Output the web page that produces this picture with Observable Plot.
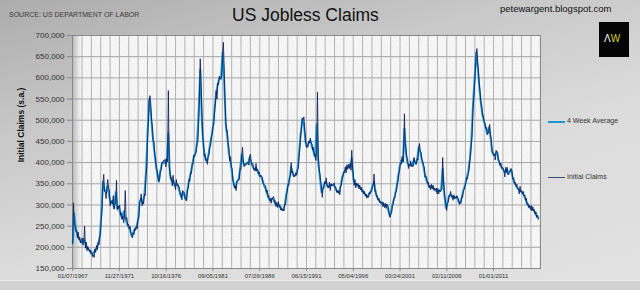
<!DOCTYPE html>
<html><head><meta charset="utf-8">
<script src="https://cdn.jsdelivr.net/npm/d3@7"></script>
<script src="https://cdn.jsdelivr.net/npm/@observablehq/plot@0.6"></script>
<style>
html,body{margin:0;padding:0;width:640px;height:290px;overflow:hidden;font-family:"Liberation Sans",Arial,sans-serif;}
#wrap{position:relative;width:640px;height:290px;overflow:hidden;
 background:linear-gradient(165deg,#acacac 0%,#c8c8c8 30%,#dcdcdc 60%,#e2e2e2 100%);}
#wrap:after{content:"";position:absolute;left:0;right:0;bottom:0;height:9px;background:#d2d2d2;border-top:1px solid #ececec;}
#panel{position:absolute;left:72px;top:35px;width:468px;height:233px;background-color:#fafafa;
 background-image:url("data:image/svg+xml;utf8,<svg xmlns='http://www.w3.org/2000/svg' width='240' height='240'><filter id='n'><feTurbulence type='fractalNoise' baseFrequency='0.9' numOctaves='2' seed='3'/><feColorMatrix values='0 0 0 0 0.5  0 0 0 0 0.5  0 0 0 0 0.5  0 0 0 0.35 -0.1'/></filter><rect width='100%' height='100%' filter='url(%23n)'/></svg>");}
#wall{position:absolute;left:72px;top:35px;width:9px;height:233px;background:linear-gradient(to right,#b8b8b8,rgba(230,230,230,0));}
#chart{position:absolute;left:0;top:0;}
.t{position:absolute;white-space:nowrap;}
</style></head>
<body><div id="wrap">
<div id="panel"></div><div id="wall"></div>
<div id="chart"></div>
<div class="t" style="left:9px;top:11px;font-size:7px;color:#3a3a3a;">SOURCE: US DEPARTMENT OF LABOR</div>
<div class="t" style="left:232px;top:5px;font-size:17.5px;color:#111;">US Jobless Claims</div>
<div class="t" style="left:500px;top:3px;font-size:9.5px;color:#111;">petewargent.blogspot.com</div>
<div class="t" style="left:599px;top:22px;width:30px;height:35px;background:#050505;"></div>
<div class="t" style="left:604px;top:33px;font-size:10px;"><span style="color:#f2f2f2">Λ</span><span style="color:#d9cf2a">W</span></div>
<div class="t" style="left:21px;top:125px;font-size:8.5px;font-weight:bold;color:#111;transform:translate(-50%,-50%) rotate(-90deg);">Initial Claims (s.a.)</div>
<div class="t" style="left:548px;top:121px;width:17px;height:2px;background:#1c97d6;"></div>
<div class="t" style="left:567px;top:117px;font-size:7px;color:#333;">4 Week Average</div>
<div class="t" style="left:548px;top:177px;width:17px;height:1px;background:#3c4a7c;"></div>
<div class="t" style="left:567px;top:173px;font-size:7px;color:#333;">Initial Claims</div>
</div>
<script>
// Weekly initial claims, read as monthly values (thousands), starting Jan 1967
const claimsStart = "1967-01-07";
const initialClaims = [
209,305,258,252,238,240,222,236,218,224,210,216,
222,205,210,250,198,212,192,202,196,190,194,186,
190,178,182,176,196,188,204,194,212,206,226,232,
270,292,350,372,332,330,315,342,360,340,336,298,
310,305,302,322,290,300,308,358,288,298,292,300,
276,282,266,274,258,276,334,266,270,252,255,244,
250,234,232,222,234,230,244,240,250,244,268,268,
305,312,326,298,308,302,326,322,368,390,455,495,
548,558,540,500,486,452,450,418,410,385,382,365,
355,360,380,382,400,398,405,404,408,390,410,402,
570,390,380,362,365,345,370,350,350,336,360,345,
348,345,340,325,326,312,334,330,330,314,316,310,
336,340,360,356,376,374,396,396,418,414,422,425,
446,450,488,552,645,592,528,462,446,415,420,405,
408,396,415,418,436,440,462,466,486,490,518,540,
570,550,588,584,604,598,596,604,656,684,626,548,
500,474,476,444,436,404,414,390,386,356,354,340,
345,334,355,356,360,360,386,384,416,436,404,390,
396,394,398,400,400,394,416,420,400,396,398,384,
386,380,398,380,384,374,378,366,370,368,364,350,
348,346,345,330,335,318,322,310,315,304,316,316,
320,306,310,296,306,294,308,296,300,288,294,286,
290,286,302,300,322,330,348,346,365,366,400,376,
380,366,370,368,376,370,383,386,415,436,465,476,
505,502,508,476,460,436,440,436,450,446,458,446,
445,430,436,416,420,405,425,566,416,386,374,356,
345,318,340,340,355,350,364,344,345,340,354,334,
350,345,345,350,352,340,342,330,334,328,334,324,
345,346,365,366,378,376,390,376,395,384,396,386,
398,382,429,386,374,346,360,340,352,346,350,338,
347,336,342,331,336,326,332,321,326,316,322,318,
329,326,332,332,345,346,373,332,334,320,322,311,
316,306,309,304,308,296,306,294,304,292,302,300,
294,278,271,279,281,299,301,316,316,329,331,349,
356,374,381,399,396,414,401,404,515,446,434,411,
409,386,396,391,404,391,394,391,412,401,399,396,
409,406,434,445,426,424,406,404,393,389,366,369,
364,351,354,341,347,336,349,338,347,334,339,336,
340,326,339,326,336,331,334,336,412,356,334,316,
304,287,304,306,322,321,332,318,322,311,324,314,
319,316,322,316,314,301,307,304,319,318,334,336,
344,351,364,361,374,381,401,416,444,466,524,550,
584,616,654,669,636,614,586,567,541,534,511,511,
496,494,481,483,466,469,476,490,466,454,426,425,
416,419,406,429,425,424,406,404,393,399,386,389,
386,379,366,389,377,389,371,374,376,385,386,379,
361,364,351,354,344,349,339,339,326,344,331,334,
326,332,321,324,311,316,301,304,294,299,289,299,
286,296,286,289,278,284,271,276,266
];
// 4-week average, read every two months (thousands), starting Jan 1967
const avgStart = "1967-01-07";
const fourWeekAverage = [
209,280,245,230,220,213,
210,220,210,198,196,190,
183,185,194,199,208,225,
280,355,335,330,345,318,
305,310,293,330,292,295,
277,268,285,268,256,248,
240,226,235,244,248,266,
308,315,305,325,380,475,
550,520,470,435,400,376,
355,380,398,402,398,405,
470,372,356,358,345,352,
345,332,318,330,322,312,
336,358,375,395,415,422,
448,520,620,500,440,412,
402,415,440,460,485,528,
565,585,600,600,660,590,
490,460,420,402,372,348,
340,355,360,385,420,398,
395,398,398,412,398,390,
383,388,379,370,368,358,
346,338,326,316,310,316,
312,303,300,302,294,289,
288,300,326,346,362,390,
372,368,372,384,425,470,
503,493,448,438,447,452,
438,426,413,490,400,365,
330,340,352,354,342,344,
347,347,346,337,331,329,
345,365,376,383,389,391,
390,410,360,350,349,344,
341,337,331,327,321,320,
327,332,345,355,328,317,
311,306,302,300,298,300,
286,273,290,308,322,340,
365,390,405,402,480,422,
398,393,397,392,408,397,
407,437,425,405,391,367,
357,347,341,343,340,337,
333,333,333,335,385,325,
293,305,321,325,320,319,
317,319,307,305,318,335,
347,362,377,408,455,537,
600,660,625,577,538,511,
495,482,468,483,460,425,
418,420,425,405,396,388,
383,377,383,373,380,382,
362,352,346,339,335,332,
329,322,313,302,296,294,
291,288,281,273,270
];
const yTicks = [150,200,250,300,350,400,450,500,550,600,650,700];
const xTickLabels = ["01/07/1967","11/27/1971","10/16/1976","09/05/1981","07/26/1986","06/15/1991","05/04/1996","03/24/2001","02/11/2006","01/01/2011"];

const parseLabel = d3.utcParse("%m/%d/%Y");
const xTickDates = xTickLabels.map(parseLabel);
const labelMap = new Map(xTickDates.map((d, i) => [+d, xTickLabels[i]]));
const s1 = new Date(claimsStart), s2 = new Date(avgStart);
const claimsData = initialClaims.map((v, i) => ({date: d3.utcMonth.offset(s1, i), value: v}));
const avgData = fourWeekAverage.map((v, i) => ({date: d3.utcMonth.offset(s2, 2 * i), value: v}));
const xDomain = [new Date("1967-01-01"), new Date("2015-11-28")];
const gridDates = d3.range(0, 60).map(k => d3.utcWeek.offset(xTickDates[0], 51 * k)).filter(d => d > xDomain[0] && d < xDomain[1]);

const chart = Plot.plot({
  width: 640, height: 290,
  marginLeft: 72, marginRight: 100, marginTop: 35, marginBottom: 22,
  style: {background: "transparent", fontFamily: "Liberation Sans, Arial, sans-serif", color: "#333"},
  x: {type: "utc", domain: xDomain},
  y: {domain: [150, 700]},
  marks: [
    Plot.gridY({ticks: yTicks, stroke: "#a4a4a4", strokeOpacity: 1}),
    Plot.gridX({ticks: gridDates, stroke: "#b2b2b2", strokeOpacity: 1}),
    Plot.frame({stroke: "#8a8a8a"}),
    Plot.lineY(avgData, {x: "date", y: "value", stroke: "#1c97d6", strokeWidth: 1.9}),
    Plot.lineY(claimsData, {x: "date", y: "value", stroke: "#0b1f5c", strokeWidth: 1, strokeOpacity: 0.85}),
    Plot.axisY({ticks: yTicks, tickFormat: d => d3.format(",")(d * 1000), fontSize: 8, tickSize: 5, tickPadding: 3, label: null, stroke: "#888"}),
    Plot.axisX({ticks: xTickDates, tickFormat: d => labelMap.get(+d), fontSize: 6, tickSize: 3, tickPadding: 2, label: null, stroke: "#888"})
  ]
});
document.getElementById("chart").appendChild(chart);
</script>
</body></html>
